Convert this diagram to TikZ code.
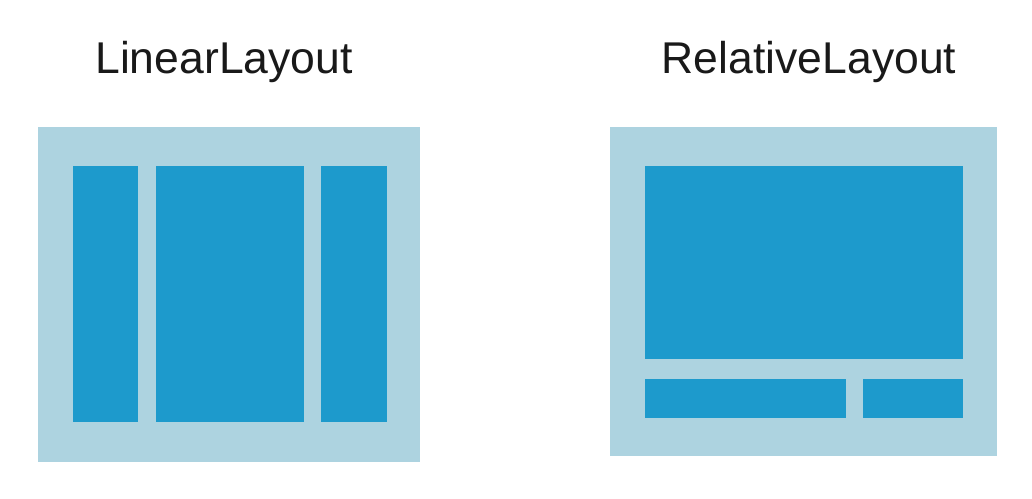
\documentclass[tikz,border=0pt]{standalone}
\usepackage{fontspec}
\setmainfont{Liberation Sans}
\definecolor{frameblue}{RGB}{173,211,224}
\definecolor{paneblue}{RGB}{29,154,204}
\definecolor{titlegray}{RGB}{25,25,25}
\newcommand{\titleSize}[0]{\fontsize{44.5}{52}\selectfont}

\begin{document}
\begin{tikzpicture}[x=1pt, y=-1pt]
  \tikzset{frame/.style={fill=frameblue},
           pane/.style={fill=paneblue},
           title/.style={anchor=base, inner sep=0pt, text=titlegray, font=\titleSize}}
  \useasboundingbox (0,0) rectangle (1032,498);
  % LinearLayout
  \node[title] (linTitle) at (224,73) {LinearLayout};
  \fill[frame] (38,127) rectangle (420,462);
  \fill[pane] (73,166) rectangle (138,422);
  \fill[pane] (156,166) rectangle (304,422);
  \fill[pane] (321,166) rectangle (387,422);
  % RelativeLayout
  \node[title] (relTitle) at (809,73) {RelativeLayout};
  \fill[frame] (610,127) rectangle (997,456);
  \fill[pane] (645,166) rectangle (963,359);
  \fill[pane] (645,379) rectangle (846,418);
  \fill[pane] (863,379) rectangle (963,418);
\end{tikzpicture}
\end{document}
